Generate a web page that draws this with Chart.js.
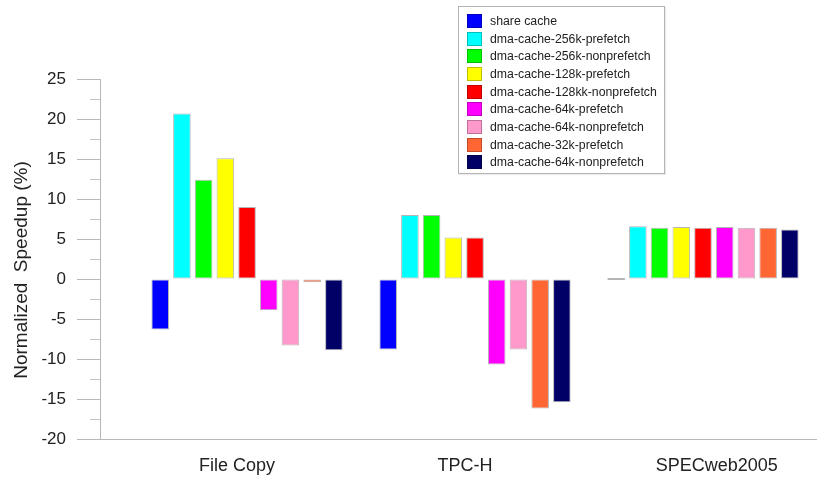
<!DOCTYPE html>
<html><head><meta charset="utf-8">
<script src="https://cdn.jsdelivr.net/npm/chart.js@4.4.0/dist/chart.umd.min.js"></script>
<style>
html,body{margin:0;padding:0;background:#fff;}
#wrap{position:relative;width:817px;height:478px;}
#legend{position:absolute;left:458px;top:6px;width:207px;height:168px;border:1px solid #b4b4b4;box-sizing:border-box;background:#fff;font-family:'Liberation Sans',Arial,sans-serif;font-size:12.3px;color:#222;padding-top:5px;box-shadow:1px 1px 1px rgba(0,0,0,0.08);}
.item{height:17.7px;display:flex;align-items:center;padding-left:8px;white-space:nowrap;}
.sw{width:15px;height:14px;margin-right:8px;box-sizing:border-box;border:1px solid rgba(0,0,0,0.25);}
</style></head>
<body><div id="wrap"><canvas id="c" width="817" height="478"></canvas><div id="legend"></div></div>
<script>
const categories = ['File Copy', 'TPC-H', 'SPECweb2005'];
const seriesNames = ['share cache', 'dma-cache-256k-prefetch', 'dma-cache-256k-nonprefetch', 'dma-cache-128k-prefetch', 'dma-cache-128kk-nonprefetch', 'dma-cache-64k-prefetch', 'dma-cache-64k-nonprefetch', 'dma-cache-32k-prefetch', 'dma-cache-64k-nonprefetch'];
const seriesColors = ['#0000ff', '#00ffff', '#00ff00', '#ffff00', '#ff0000', '#ff00ff', '#ff99cc', '#ff6633', '#000066'];
const shareCache      = [-6.3, -8.8, 0];
const dma256kPre      = [20.7, 8.0, 6.6];
const dma256kNon      = [12.4, 8.0, 6.4];
const dma128kPre      = [15.1, 5.2, 6.5];
const dma128kkNon     = [9.0, 5.2, 6.4];
const dma64kPre       = [-3.9, -10.7, 6.5];
const dma64kNon       = [-8.3, -8.8, 6.4];
const dma32kPre       = [-0.4, -16.2, 6.4];
const dma64kNon2      = [-8.9, -15.4, 6.2];
const yTickValues = [25, 20, 15, 10, 5, 0, -5, -10, -15, -20];
const yTitle = 'Normalized  Speedup (%)';
const seriesValues = [shareCache, dma256kPre, dma256kNon, dma128kPre, dma128kkNon, dma64kPre, dma64kNon, dma32kPre, dma64kNon2];

// small horizontal nudges for category label placement (layout only)
const labelNudge = [-0.044, -0.044, 0.06];

const datasets = seriesValues.map((vals, k) => ({
  label: seriesNames[k],
  data: vals.map((v, i) => ({x: i, y: v})),
  backgroundColor: seriesColors[k],
  borderColor: 'rgba(90,90,90,0.45)',
  borderWidth: 1,
  borderSkipped: false,
  minBarLength: 2,
  categoryPercentage: 0.857,
  barPercentage: 0.81
}));

const font = "'Liberation Sans', Arial, sans-serif";

const extras = {
  id: 'extras',
  afterDraw(chart) {
    const y = chart.scales.y, ctx = chart.ctx;
    ctx.save();
    ctx.strokeStyle = '#c4c4c4';
    ctx.lineWidth = 1;
    for (const t of y.ticks) {
      if (!yTickValues.includes(t.value)) {
        const py = Math.round(y.getPixelForValue(t.value)) + 0.5;
        ctx.beginPath(); ctx.moveTo(y.right - 10, py); ctx.lineTo(y.right, py); ctx.stroke();
      }
    }
    // y axis title
    ctx.translate(22, (chart.chartArea.top + chart.chartArea.bottom) / 2 + 11);
    ctx.rotate(-Math.PI / 2);
    ctx.fillStyle = '#222';
    ctx.font = "19px " + font;
    ctx.textAlign = 'center';
    ctx.textBaseline = 'middle';
    ctx.fillText(yTitle, 0, 0);
    ctx.restore();
  }
};

const chart = new Chart(document.getElementById('c'), {
  type: 'bar',
  data: { datasets },
  plugins: [extras],
  options: {
    responsive: false,
    animation: false,
    layout: { padding: { top: 79, right: 0, left: 0, bottom: 0 } },
    plugins: { legend: { display: false }, tooltip: { enabled: false } },
    scales: {
      x: {
        type: 'linear',
        offset: false,
        min: -0.645, max: 2.5,
        afterBuildTicks: (s) => { s.ticks = categories.map((c, i) => ({ value: i + labelNudge[i] })); },
        afterFit: (s) => { s.height = 39; },
        grid: { drawOnChartArea: false, drawTicks: false, offset: false },
        border: { color: '#b8b8b8' },
        ticks: { padding: 16, color: '#222', font: { family: font, size: 18 }, callback: (v) => categories[Math.round(v)], autoSkip: false, maxRotation: 0 }
      },
      y: {
        min: -20, max: 25,
        afterFit: (s) => { s.width = 100; },
        grid: { drawOnChartArea: false, drawTicks: true, tickLength: 23,
          tickColor: (c) => yTickValues.includes(c.tick.value) ? '#b8b8b8' : 'rgba(0,0,0,0)' },
        border: { color: '#b8b8b8' },
        ticks: { stepSize: 2.5, autoSkip: false, padding: 11, color: '#222', font: { family: font, size: 17 },
          callback: (v) => yTickValues.includes(v) ? String(v) : '' },
        title: { display: false }
      }
    }
  }
});

const leg = document.getElementById('legend');
chart.data.datasets.forEach(ds => {
  const it = document.createElement('div'); it.className = 'item';
  const sw = document.createElement('span'); sw.className = 'sw'; sw.style.background = ds.backgroundColor;
  const tx = document.createElement('span'); tx.textContent = ds.label;
  it.appendChild(sw); it.appendChild(tx); leg.appendChild(it);
});
</script>
</body></html>
